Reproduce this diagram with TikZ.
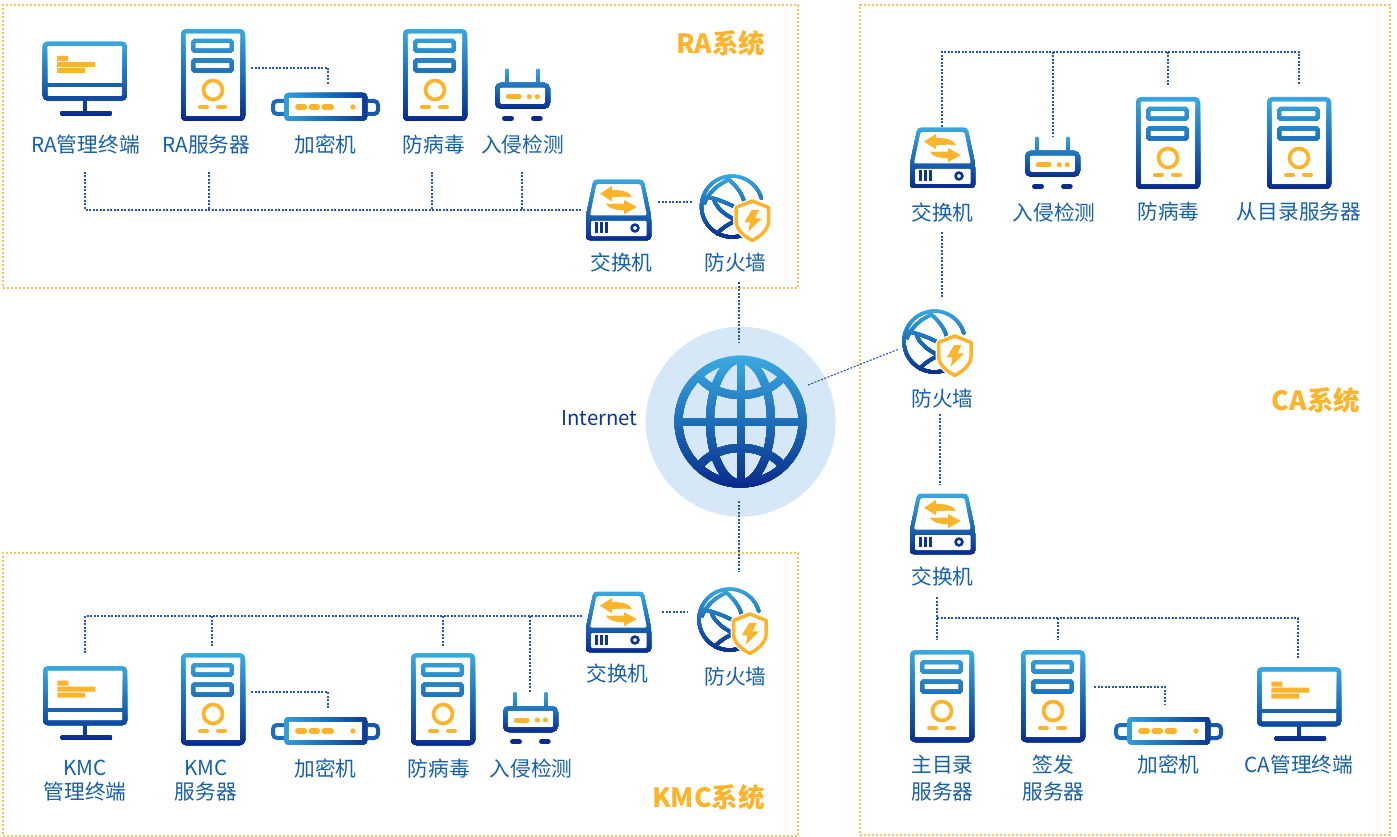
\documentclass[tikz,border=0pt]{standalone}
\usepackage{fontspec}
\setmainfont{Noto Sans CJK SC}
\definecolor{gT}{HTML}{3BAAE3}
\definecolor{gM}{HTML}{1C6CB6}
\definecolor{gB}{HTML}{0B2B8C}
\definecolor{orangeC}{HTML}{FBB42C}
\definecolor{boxC}{HTML}{F9C55A}
\definecolor{connC}{HTML}{2455A6}
\definecolor{labC}{HTML}{1660AA}
\definecolor{haloC}{HTML}{D6E8F8}
\tikzset{
  iconbox/.style={inner sep=0pt,outer sep=0pt},
  conn/.style={draw=connC,line width=1.1pt,dash pattern=on 2pt off 1.5pt},
  regionbox/.style={draw=boxC,line width=1.4pt,dash pattern=on 2.2pt off 1.8pt,inner sep=0pt,outer sep=0pt,anchor=north west},
  lab/.style={text=labC,font=\fontsize{20.7}{26.6}\selectfont,inner sep=0pt,align=center},
  title/.style={text=orangeC,font=\fontsize{26.5}{30}\selectfont\bfseries,inner sep=0pt},
  oline/.style={draw=orangeC,line cap=round}
}
% top-to-bottom gradient painted in overlapping bands
\newcommand\vbands[3]{%
  \foreach \gi in {0,...,23}{%
    \pgfmathsetmacro\gy{-2+(#3+4)*\gi/24}%
    \ifnum\gi<12
      \pgfmathsetmacro\gp{100-100*\gi/12}\colorlet{gc}{gT!\gp!gM}%
    \else
      \pgfmathsetmacro\gp{100-100*(\gi-12)/11}\colorlet{gc}{gM!\gp!gB}%
    \fi
    \begin{scope}
      \clip (-3,\gy) rectangle (#2+3,#3+3);
      #1
    \end{scope}
  }}
\newcommand\hbands[3]{%
  \foreach \gi in {0,...,23}{%
    \pgfmathsetmacro\gx{(#2)*\gi/24}%
    \ifnum\gi<12
      \pgfmathsetmacro\gp{100-100*\gi/12}\colorlet{gc}{gT!\gp!gM}%
    \else
      \pgfmathsetmacro\gp{100-100*(\gi-12)/11}\colorlet{gc}{gM!\gp!gB}%
    \fi
    \begin{scope}
      \clip (\gx,-3) rectangle (#2+3,#3+3);
      #1
    \end{scope}
  }}
\newcommand\serverpaths{%
  \draw[gc,line width=4.4pt,rounded corners=3pt] (2.2,2.2) rectangle (61.8,89.8);
  \draw[gc,line width=4pt,rounded corners=1.5pt] (12.2,12) rectangle (50.8,21.7);
  \draw[gc,line width=4pt,rounded corners=1.5pt] (12.2,31.5) rectangle (50.8,41.5);
}
\newcommand\serverIcon[3]{\begin{scope}[shift={(#2,#3)}]
  \node[iconbox,minimum width=64pt,minimum height=92pt] (#1) at (32,46) {};
  \vbands{\serverpaths}{64}{92}
  \draw[oline,line width=3.7pt] (32,61) circle[radius=9.5];
  \draw[oline,line width=4pt] (19,78)--(26,78) (37,78)--(44,78);
\end{scope}}
\newcommand\monitorpaths{%
  \draw[gc,line width=4.4pt,rounded corners=3pt] (2.2,2.2) rectangle (82,57);
  \draw[gc,line width=4.4pt] (2.2,43.7)--(82,43.7);
  \draw[gc,line width=4.6pt] (42.1,57)--(42.1,71);
  \draw[gc,line width=5pt,line cap=round] (20,71.8)--(66.5,71.8);
}
\newcommand\monitorIcon[3]{\begin{scope}[shift={(#2,#3)}]
  \node[iconbox,minimum width=84pt,minimum height=74pt] (#1) at (42,37) {};
  \vbands{\monitorpaths}{84}{74}
  \fill[orangeC] (14.3,14.7) rectangle (25.3,19.7) (14.3,20.7) rectangle (52.3,25.7) (14.3,26.7) rectangle (42.3,31.7);
\end{scope}}
\newcommand\encbody{%
  \draw[gc,line width=4.4pt,rounded corners=2pt] (15.5,2.2) rectangle (93.8,25.5);
}
\newcommand\encIcon[3]{\begin{scope}[shift={(#2,#3)}]
  \node[iconbox,minimum width=109pt,minimum height=28pt] (#1) at (54.5,14) {};
  \draw[gM,line width=4pt,rounded corners=4pt] (13,8) -- (2,8) -- (2,21) -- (13,21);
  \draw[gM!70!gB,line width=4pt,rounded corners=4pt] (96,8) -- (107,8) -- (107,21) -- (96,21);
  \hbands{\encbody}{109}{28}
  \draw[oline,line width=5.5pt] (26.8,14)--(33.3,14) (40.2,14)--(46.3,14) (53.2,14)--(60.3,14);
  \fill[orangeC] (82,14) circle[radius=2.7];
\end{scope}}
\newcommand\routerpaths{%
  \draw[gc,line width=4.4pt,line cap=round] (11.7,2.2)--(11.7,15) (43,2.2)--(43,15);
  \draw[gc,line width=4.4pt,rounded corners=4pt] (2.2,16.2) rectangle (52.8,37.8);
}
\newcommand\routerIcon[3]{\begin{scope}[shift={(#2,#3)}]
  \node[iconbox,minimum width=55pt,minimum height=52pt] (#1) at (27.5,26) {};
  \vbands{\routerpaths}{55}{40}
  \draw[oline,line width=5pt] (13.2,28)--(24.2,28);
  \fill[orangeC] (34.3,28) circle[radius=2.6] (42.3,28) circle[radius=2.6];
  \draw[gB,line width=5pt,line cap=round] (9.5,49.6)--(16.5,49.6) (38.5,49.6)--(45.2,49.6);
\end{scope}}
\newcommand\switchpaths{%
  \fill[gc,rounded corners=3.5pt] (7.5,-0.5)--(57.5,-0.5)--(65,36)--(65,60)--(0,60)--(0,36)--cycle;
}
\newcommand\switchIcon[3]{\begin{scope}[shift={(#2,#3)}]
  \node[iconbox,minimum width=65pt,minimum height=60pt] (#1) at (32.5,30) {};
  \vbands{\switchpaths}{65}{60}
  \fill[white,rounded corners=1.5pt] (10.5,4.2)--(54.5,4.2)--(60.8,35.5)--(4,35.5)--cycle;
  \fill[white,rounded corners=1pt] (5,41) rectangle (60.5,56);
  \draw[gB!85!gM,line width=2.6pt] (10.7,42.5)--(10.7,53) (15.7,42.5)--(15.7,53) (20.7,42.5)--(20.7,53);
  \draw[gB!85!gM,line width=2.6pt] (49,48) circle[radius=3.4];
  \fill[orangeC] (14,13.7)--(26,6)--(26,10) .. controls (38,10) and (44,12) .. (46,17.5) .. controls (42,16) and (34,17) .. (26,17)--(26,21.3)--cycle;
  \fill[orangeC] (50.7,27)--(38,20)--(38,23.5) .. controls (32,23.5) and (26,24) .. (20,23.7) .. controls (22,28) and (28,30) .. (38,30.3)--(38,34.3)--cycle;
\end{scope}}
\newcommand\fwpaths{%
  \begin{scope}[gc,line width=3.4pt]
  \draw[gc,line cap=round,shift={(31,32.5)}] (-15.5:30.5) arc[start angle=-15.5,end angle=-289.2,radius=30.5];
  \draw[gc] (29,5.2) .. controls (17,10) and (8,18) .. (3,30);
  \draw[gc] (25.7,3.3) .. controls (34,11) and (40,17) .. (43,27);
  \draw[gc] (2.3,22.5) .. controls (13,23.5) and (24,28) .. (36,34);
  \draw[gc] (12.5,24.5) .. controls (15,33) and (23,41) .. (35,46);
  \draw[gc] (15.2,60.5) .. controls (20,55) and (26,51) .. (35,46.3);
  \end{scope}
}
\newcommand\firewallIcon[3]{\begin{scope}[shift={(#2,#3)}]
  \node[iconbox,minimum width=70pt,minimum height=69pt] (#1) at (35,34.5) {};
  \vbands{\fwpaths}{65}{65}
  \path[fill=white,draw=white,line width=6pt,line join=round] (51.3,27)--(35,33.5)--(35,47) .. controls (35.5,56) and (43,62) .. (51.3,66.5) .. controls (59.5,62) and (67.2,56) .. (67.7,47)--(67.7,33.5)--cycle;
  \draw[orangeC,fill=white,line width=3.5pt,line join=round] (51.3,27)--(35,33.5)--(35,47) .. controls (35.5,56) and (43,62) .. (51.3,66.5) .. controls (59.5,62) and (67.2,56) .. (67.7,47)--(67.7,33.5)--cycle;
  \fill[orangeC] (50.7,36)--(43.3,48.3)--(49,48.3)--(47.3,57.7)--(60.7,44.3)--(54,44.3)--(58,36)--cycle;
\end{scope}}
\newcommand\globepaths{%
  \draw[gc,line width=8pt] (66,66) circle[radius=62];
  \draw[gc,line width=8pt] (66,66) ellipse[x radius=30.5,y radius=62];
  \draw[gc,line width=8pt] (66,4)--(66,128) (4,66)--(128,66);
  \draw[gc,line width=8pt] (26,23.3) .. controls (46,45) and (86,45) .. (107,23.3);
  \draw[gc,line width=8pt] (26,108.7) .. controls (46,87) and (86,87) .. (107,108.7);
}
\begin{document}
\begin{tikzpicture}[x=1pt,y=-1pt]
\useasboundingbox (0,0) rectangle (1397,837);
\fill[white] (0,0) rectangle (1397,837);

% regions
\node[regionbox,minimum width=795pt,minimum height=283pt] (raBox) at (3,5) {};
\node[regionbox,minimum width=530pt,minimum height=830pt] (caBox) at (860,5) {};
\node[regionbox,minimum width=795pt,minimum height=283pt] (kmcBox) at (3,553) {};

% Internet
\node[fill=haloC,circle,inner sep=0pt,minimum size=190pt] (netHalo) at (740.7,421.7) {};
\begin{scope}[shift={(674.5,355.5)}]
  \node[iconbox,minimum size=132pt] (net) at (66,66) {};
  \vbands{\globepaths}{132}{132}
\end{scope}
\node[inner sep=0pt,text=gB!85!gM,font=\fontsize{20.4}{25}\selectfont] (netLab) at (599.5,418.5) {Internet};

% RA icons
\monitorIcon{raMon}{42.7}{41.3}
\serverIcon{raSrv}{181}{29}
\encIcon{raEnc}{271}{93}
\serverIcon{raAv}{403}{29}
\routerIcon{raIds}{495}{68.7}
\switchIcon{raSw}{586}{180}
\firewallIcon{raFw}{701}{174}
% CA icons
\switchIcon{caSwA}{910}{128}
\routerIcon{caIds}{1025}{136.7}
\serverIcon{caAv}{1136}{97}
\serverIcon{caSlave}{1267}{97}
\firewallIcon{caFw}{903.5}{309}
\switchIcon{caSwB}{910}{494}
\serverIcon{caMain}{910}{650}
\serverIcon{caSign}{1021}{650}
\encIcon{caEnc}{1114}{717}
\monitorIcon{caMon}{1257}{667}
% KMC icons
\monitorIcon{kmcMon}{43}{666}
\serverIcon{kmcSrv}{181}{653}
\encIcon{kmcEnc}{271}{717}
\serverIcon{kmcAv}{411}{653}
\routerIcon{kmcIds}{503}{692}
\switchIcon{kmcSw}{586}{592}
\firewallIcon{kmcFw}{698.5}{587}

% labels
\node[lab] (l1) at (85.5,144.7) {RA管理终端};
\node[lab] (l2) at (206.5,144.7) {RA服务器};
\node[lab] (l3) at (325.5,144.7) {加密机};
\node[lab] (l4) at (434,144.7) {防病毒};
\node[lab] (l5) at (522.5,144.7) {入侵检测};
\node[lab] (l6) at (621.5,262.7) {交换机};
\node[lab] (l7) at (735.5,262.7) {防火墙};
\node[title] (t1) at (720.5,43.5) {RA系统};
\node[lab] (c1) at (942.5,212.7) {交换机};
\node[lab] (c2) at (1054,212.7) {入侵检测};
\node[lab] (c3) at (1168.5,211.7) {防病毒};
\node[lab] (c4) at (1299,211.7) {从目录服务器};
\node[lab] (c5) at (942.5,398.7) {防火墙};
\node[title] (t2) at (1316,400.5) {CA系统};
\node[lab] (c6) at (942.5,576.7) {交换机};
\node[lab] (c7) at (942.5,778) {主目录\\服务器};
\node[lab] (c8) at (1053.5,778) {签发\\服务器};
\node[lab] (c9) at (1168.5,764.7) {加密机};
\node[lab] (c10) at (1299,764.7) {CA管理终端};
\node[lab] (k1) at (85,780.5) {KMC\\[-2.4pt]管理终端};
\node[lab] (k2) at (206,780.5) {KMC\\[-2.4pt]服务器};
\node[lab] (k3) at (325.5,768.7) {加密机};
\node[lab] (k4) at (439,768.7) {防病毒};
\node[lab] (k5) at (531,768.7) {入侵检测};
\node[lab] (k6) at (617.5,673.7) {交换机};
\node[lab] (k7) at (735.5,676.7) {防火墙};
\node[title] (t3) at (708.5,797.5) {KMC系统};

% connector ends: RA
\coordinate (a1) at (85,172); \coordinate (a2) at (85,210); \coordinate (a3) at (582,210);
\coordinate (a4) at (209,172); \coordinate (a5) at (209,210);
\coordinate (a6) at (432,172); \coordinate (a7) at (432,210);
\coordinate (a8) at (522,172); \coordinate (a9) at (522,210);
\coordinate (a10) at (251,68); \coordinate (a11) at (328,68); \coordinate (a12) at (328,85);
\coordinate (a13) at (658,202); \coordinate (a14) at (692,202);
\coordinate (a15) at (739,282); \coordinate (a16) at (739,343);
\draw[conn] (a1)--(a2)--(a3);
\draw[conn] (a4)--(a5);
\draw[conn] (a6)--(a7);
\draw[conn] (a8)--(a9);
\draw[conn] (a10)--(a11)--(a12);
\draw[conn] (a13)--(a14);
\draw[conn] (a15)--(a16);
% connector ends: CA
\coordinate (b1) at (942,127); \coordinate (b2) at (942,52); \coordinate (b3) at (1299,52); \coordinate (b4) at (1299,85);
\coordinate (b5) at (1053,52); \coordinate (b6) at (1053,137);
\coordinate (b7) at (1168,52); \coordinate (b8) at (1168,85);
\coordinate (b9) at (942,232); \coordinate (b10) at (942,298);
\coordinate (b11) at (808,385); \coordinate (b12) at (899,349);
\coordinate (b13) at (940,414); \coordinate (b14) at (940,485);
\coordinate (b15) at (937,597); \coordinate (b16) at (937,640);
\coordinate (b17) at (937,618); \coordinate (b18) at (1298,618); \coordinate (b19) at (1298,658);
\coordinate (b20) at (1058,618); \coordinate (b21) at (1058,640);
\coordinate (b22) at (1094,687); \coordinate (b23) at (1165,687); \coordinate (b24) at (1165,704);
\draw[conn] (b1)--(b2)--(b3)--(b4);
\draw[conn] (b5)--(b6);
\draw[conn] (b7)--(b8);
\draw[conn] (b9)--(b10);
\draw[conn] (b11)--(b12);
\draw[conn] (b13)--(b14);
\draw[conn] (b15)--(b16);
\draw[conn] (b17)--(b18)--(b19);
\draw[conn] (b20)--(b21);
\draw[conn] (b22)--(b23)--(b24);
% connector ends: KMC
\coordinate (d1) at (739,501); \coordinate (d2) at (739,572);
\coordinate (d3) at (662,612); \coordinate (d4) at (687,612);
\coordinate (d5) at (582,616); \coordinate (d6) at (85,616); \coordinate (d7) at (85,654);
\coordinate (d8) at (212,616); \coordinate (d9) at (212,646);
\coordinate (d10) at (443,616); \coordinate (d11) at (443,646);
\coordinate (d12) at (530,616); \coordinate (d13) at (530,692);
\coordinate (d14) at (251,692); \coordinate (d15) at (328,692); \coordinate (d16) at (328,708);
\draw[conn] (d1)--(d2);
\draw[conn] (d3)--(d4);
\draw[conn] (d5)--(d6)--(d7);
\draw[conn] (d8)--(d9);
\draw[conn] (d10)--(d11);
\draw[conn] (d12)--(d13);
\draw[conn] (d14)--(d15)--(d16);
\end{tikzpicture}
\end{document}
